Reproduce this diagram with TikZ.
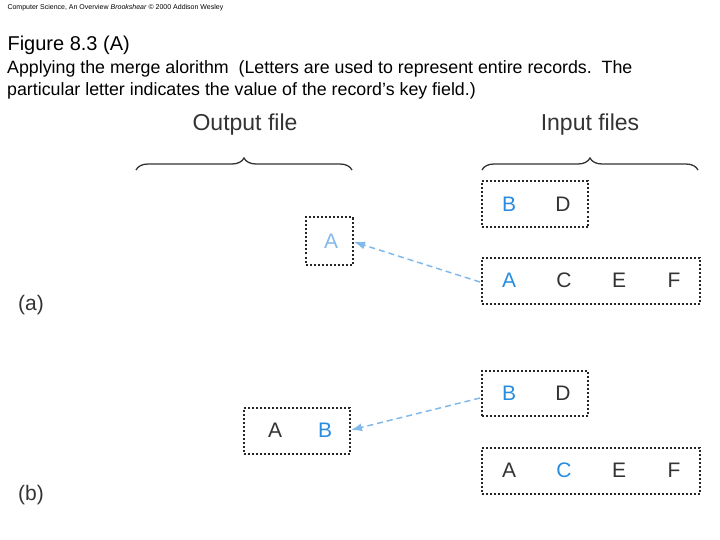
\documentclass[tikz,border=0pt]{standalone}
\usepackage{fontspec}
\setmainfont{Liberation Sans}
\usetikzlibrary{decorations.pathreplacing,arrows.meta}
\definecolor{lb}{RGB}{130,185,235}
\definecolor{bl}{RGB}{40,140,225}
\begin{document}
\begin{tikzpicture}[x=1pt,y=-1pt,
  box/.style={draw,black!85,dash pattern=on 2pt off 2pt,line width=2pt,inner sep=0},
  let/.style={font=\fontsize{21}{21}\selectfont,anchor=center},
  hd/.style={font=\fontsize{23}{23}\selectfont,text=black!80},
  br/.style={decorate,decoration={brace,amplitude=12pt},line width=1.3pt,black!80},
  arr/.style={lb,line width=1.5pt,dash pattern=on 6pt off 4pt,-{Latex[length=11pt,width=8pt]}}]
\useasboundingbox (0,0) rectangle (720,540);
\node[anchor=west,font=\fontsize{7}{7}\selectfont] (hdr) at (4,8) {Computer Science, An Overview \textit{Brookshear} \copyright{} 2000 Addison Wesley};
\node[anchor=west,font=\fontsize{20}{20}\selectfont] (fig) at (4,45) {Figure 8.3 (A)};
\node[anchor=north west,align=left,font=\fontsize{17.8}{22}\selectfont,inner sep=0] (cap) at (7,60) {Applying the merge alorithm\ \ (Letters are used to represent entire records.\ \ The\\particular letter indicates the value of the record’s key field.)};
\node[hd] (of) at (245,125) {Output file};
\node[hd] (if) at (590,125) {Input files};
\draw[br] (136,170) -- (352,170);
\draw[br] (482,170) -- (698,170);
% (a)
\node[box,minimum width=106,minimum height=46] (bd1) at (535,204.5) {};
\node[let,bl] (b1) at (509,204) {B};
\node[let,black!80] (d1) at (563,204) {D};
\node[box,minimum width=47,minimum height=47] (oa) at (329.5,241) {};
\node[let,lb] (oat) at (331,241) {A};
\node[box,minimum width=218,minimum height=46] (acef1) at (591,281) {};
\node[let,bl] (a1) at (509,280) {A};
\node[let,black!80] (c1) at (564,280) {C};
\node[let,black!80] (e1) at (619,280) {E};
\node[let,black!80] (f1) at (674,280) {F};
\node[let,black!80] (la) at (31,305) {(a)};
\coordinate (s1) at (480,282);
\draw[arr] (s1) -- (oa.east|-0,242);
% (b)
\node[box,minimum width=106,minimum height=45] (bd2) at (535,393.5) {};
\node[let,bl] (b2) at (509,393) {B};
\node[let,black!80] (d2) at (563,393) {D};
\node[box,minimum width=106,minimum height=46] (ab) at (297,431) {};
\node[let,black!80] (a2) at (275,430) {A};
\node[let,bl] (b3) at (325,430) {B};
\node[box,minimum width=218,minimum height=46] (acef2) at (591,471) {};
\node[let,black!80] (a3) at (509,470) {A};
\node[let,bl] (c3) at (564,470) {C};
\node[let,black!80] (e3) at (619,470) {E};
\node[let,black!80] (f3) at (674,470) {F};
\node[let,black!80] (lb2) at (31,495) {(b)};
\coordinate (s2) at (480,398);
\draw[arr] (s2) -- (ab.east|-0,430);
\end{tikzpicture}
\end{document}
